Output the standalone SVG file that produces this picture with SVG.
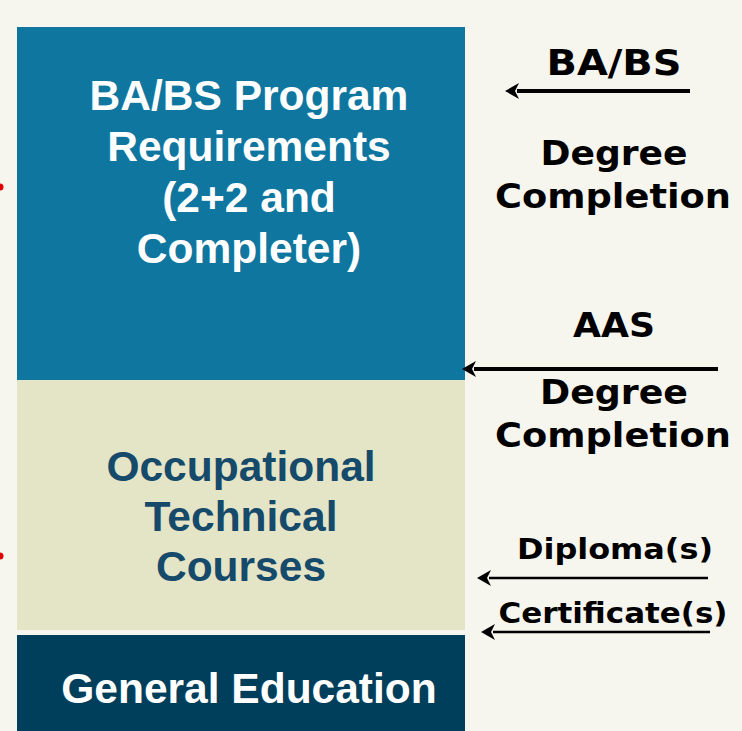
<svg xmlns="http://www.w3.org/2000/svg" width="742" height="731" viewBox="0 0 742 731">
<defs>
<style>
.box{font-family:"Liberation Sans",Arial,sans-serif;font-weight:bold;font-size:42.5px;text-anchor:middle}
.lbl{font-family:"DejaVu Sans",Verdana,sans-serif;font-weight:bold;fill:#000;text-anchor:middle}
.arr{stroke:#000;fill:none}
</style>
<marker id="ah" viewBox="0 0 14 16" refX="2" refY="8" markerWidth="14" markerHeight="16" markerUnits="userSpaceOnUse" orient="auto">
<path d="M14,8 L0,0 L4,8 L0,16 Z" fill="#000"/>
</marker>
</defs>
<rect width="742" height="731" fill="#F6F5EE"/>
<circle cx="0" cy="187" r="3.5" fill="#E00000"/>
<circle cx="0" cy="556" r="3.5" fill="#E00000"/>
<g id="babs-node">
<rect x="17" y="27" width="448" height="353" fill="#0F76A0"/>
<text class="box" fill="#FFFFFF"><tspan x="249" y="110">BA/BS Program</tspan><tspan x="249" y="161">Requirements</tspan><tspan x="249" y="212">(2+2 and</tspan><tspan x="249" y="263">Completer)</tspan></text>
</g>
<g id="occ-node">
<rect x="17" y="380" width="448" height="250" fill="#E4E4C7"/>
<text class="box" fill="#154A6A"><tspan x="241" y="481">Occupational</tspan><tspan x="241" y="531">Technical</tspan><tspan x="241" y="581">Courses</tspan></text>
</g>
<g id="gen-node">
<rect x="17" y="635" width="448" height="96" fill="#003F5C"/>
<text class="box" fill="#FFFFFF" x="249" y="703">General Education</text>
</g>
<g id="labels">
<text class="lbl" x="614" y="75" font-size="35" textLength="135" lengthAdjust="spacingAndGlyphs">BA/BS</text>
<text class="lbl" x="614" y="165" font-size="34" textLength="147" lengthAdjust="spacingAndGlyphs">Degree</text>
<text class="lbl" x="613" y="208" font-size="34" textLength="236" lengthAdjust="spacingAndGlyphs">Completion</text>
<text class="lbl" x="614" y="337" font-size="34" textLength="82" lengthAdjust="spacingAndGlyphs">AAS</text>
<text class="lbl" x="614" y="404" font-size="34" textLength="148" lengthAdjust="spacingAndGlyphs">Degree</text>
<text class="lbl" x="613" y="447" font-size="34" textLength="236" lengthAdjust="spacingAndGlyphs">Completion</text>
<text class="lbl" x="615" y="559" font-size="28" textLength="196" lengthAdjust="spacingAndGlyphs">Diploma(s)</text>
<text class="lbl" x="613" y="623" font-size="28" textLength="229" lengthAdjust="spacingAndGlyphs">Certificate(s)</text>
</g>
<g id="connectors">
<line class="arr" x1="690" y1="91" x2="517" y2="91" stroke-width="4" marker-end="url(#ah)"/>
<line class="arr" x1="718" y1="369" x2="474" y2="369" stroke-width="4" marker-end="url(#ah)"/>
<line class="arr" x1="708" y1="578" x2="489" y2="578" stroke-width="2.5" marker-end="url(#ah)"/>
<line class="arr" x1="710" y1="632" x2="493" y2="632" stroke-width="2.5" marker-end="url(#ah)"/>
</g>
</svg>
